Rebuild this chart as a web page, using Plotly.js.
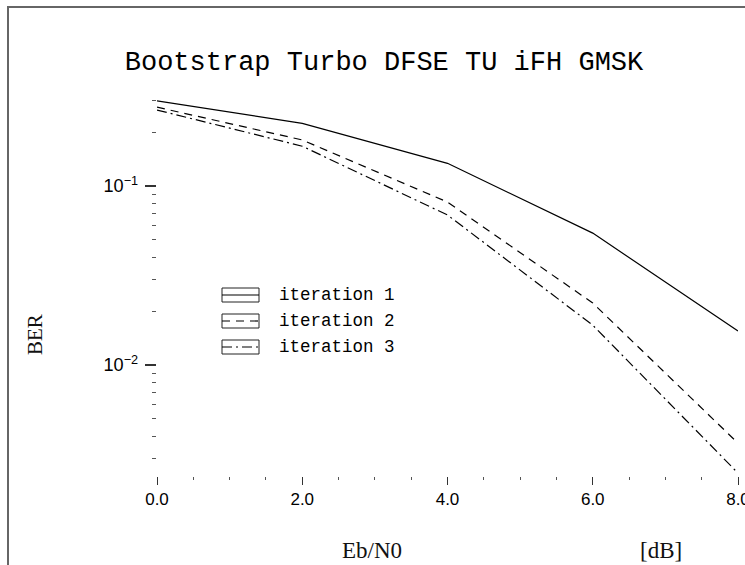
<!DOCTYPE html>
<html>
<head>
<meta charset="utf-8">
<script src="https://cdn.plot.ly/plotly-3.0.1.min.js"></script>
<style>
  html, body { margin: 0; padding: 0; background: #fff; }
  #chart { width: 745px; height: 565px; }
</style>
</head>
<body>
<div id="chart"></div>
<script>
// Eb/N0 in dB
const ebn0 = [0, 2, 4, 6, 8];

// Bit error rate per decoder iteration
const iter1 = [0.299, 0.224, 0.134, 0.0546, 0.0155];
const iter2 = [0.276, 0.181, 0.0814, 0.0222, 0.00366];
const iter3 = [0.266, 0.167, 0.0689, 0.0167, 0.00249];

const seriesNames = ['iteration 1', 'iteration 2', 'iteration 3'];
const seriesValues = [iter1, iter2, iter3];
const seriesDash = ['solid', '8px,6px', '10px,4px,2px,4px'];

const xTickVals = [0, 2, 4, 6, 8];

// plot area in pixels
const W = 745, H = 565;
const M = { l: 157, r: 7, t: 98, b: 89 };
const plotW = W - M.l - M.r;
const plotH = H - M.t - M.b;
const px = p => (p - M.l) / plotW;          // pixel x -> paper x
const py = p => (H - M.b - p) / plotH;       // pixel y -> paper y

const traces = seriesValues.map((vals, i) => ({
  type: 'scatter',
  mode: 'lines',
  x: ebn0,
  y: vals,
  name: seriesNames[i],
  line: { color: '#000', width: 1.2, dash: seriesDash[i] },
  showlegend: false,
  cliponaxis: false
}));

// boxed line samples with labels
const shapes = [];
const annotations = [];
const legendRows = [295, 321, 347];
seriesNames.forEach((name, i) => {
  const cy = legendRows[i];
  shapes.push({
    type: 'rect', xref: 'paper', yref: 'paper',
    x0: px(222), x1: px(259), y0: py(cy + 7), y1: py(cy - 7),
    line: { color: '#222', width: 1 }, fillcolor: 'rgba(0,0,0,0)'
  });
  shapes.push({
    type: 'line', xref: 'paper', yref: 'paper',
    x0: px(222), x1: px(259), y0: py(cy), y1: py(cy),
    line: { color: '#000', width: 1.2, dash: seriesDash[i] }
  });
  annotations.push({
    xref: 'paper', yref: 'paper', x: px(277), y: py(cy),
    xanchor: 'left', yanchor: 'middle', showarrow: false,
    text: name,
    font: { family: 'Liberation Mono, monospace', size: 17.5, color: '#000' }
  });
});

// outer frame (top and left edges visible)
shapes.push({
  type: 'rect', xref: 'paper', yref: 'paper',
  x0: px(8), x1: px(760), y0: py(580), y1: py(7),
  line: { color: '#666', width: 2 }, fillcolor: 'rgba(0,0,0,0)', layer: 'below'
});

const labelFont = { family: 'Liberation Serif, serif', size: 23, color: '#111' };
annotations.push({
  xref: 'paper', yref: 'paper', x: px(372), y: py(550),
  xanchor: 'center', yanchor: 'middle', showarrow: false,
  text: 'Eb/N0', font: labelFont
});
annotations.push({
  xref: 'paper', yref: 'paper', x: px(661), y: py(550),
  xanchor: 'center', yanchor: 'middle', showarrow: false,
  text: '[dB]', font: labelFont
});
annotations.push({
  xref: 'paper', yref: 'paper', x: px(35), y: py(335),
  xanchor: 'center', yanchor: 'middle', showarrow: false,
  textangle: -90,
  text: 'BER', font: { family: 'Liberation Serif, serif', size: 21, color: '#111' }
});

const layout = {
  width: W, height: H,
  margin: M,
  paper_bgcolor: '#fff',
  plot_bgcolor: '#fff',
  showlegend: false,
  title: {
    text: 'Bootstrap Turbo DFSE TU iFH GMSK',
    font: { family: 'Liberation Mono, monospace', size: 27, color: '#000' },
    xref: 'container', yref: 'container',
    x: 384 / W, xanchor: 'center',
    y: 1 - 61 / H, yanchor: 'middle'
  },
  xaxis: {
    range: [0, 8],
    showgrid: false, zeroline: false, showline: false,
    tickvals: xTickVals,
    tickformat: '.1f',
    ticklabeloverflow: 'allow',
    ticks: 'outside', ticklen: 8, tickwidth: 1, tickcolor: '#333',
    tickfont: { family: 'Liberation Sans, sans-serif', size: 17, color: '#000' },
    minor: { dtick: 0.5, ticks: 'outside', ticklen: 3, tickwidth: 1, tickcolor: '#555' }
  },
  yaxis: {
    type: 'log',
    range: [-2.62, -0.508],
    showgrid: false, zeroline: false, showline: false,
    dtick: 1,
    exponentformat: 'power',
    ticks: 'outside', ticklen: 11, tickwidth: 1.3, tickcolor: '#333',
    tickfont: { family: 'Liberation Sans, sans-serif', size: 14.5, color: '#000' },
    ticklabelstandoff: 4,
    minor: { dtick: 'D1', ticks: 'outside', ticklen: 4, tickwidth: 1, tickcolor: '#555' }
  },
  shapes: shapes,
  annotations: annotations
};

Plotly.newPlot('chart', traces, layout, { staticPlot: true, displayModeBar: false });
</script>
</body>
</html>
